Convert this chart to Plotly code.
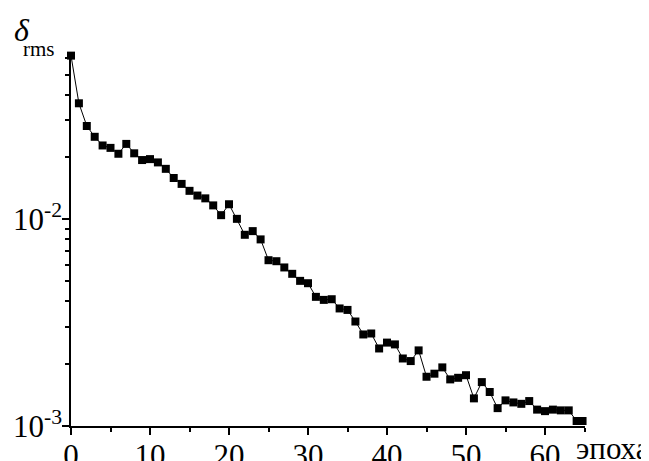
import plotly.graph_objects as go

epochs = list(range(0, 65)) + [64.75]
rms = [0.0617, 0.0363, 0.0282, 0.0250, 0.0227, 0.0221, 0.0207, 0.0231, 0.0208, 0.0193,
       0.0195, 0.0188, 0.0175, 0.0158, 0.0148, 0.0137, 0.0130, 0.0126, 0.01165, 0.01045,
       0.0118, 0.01003, 0.00840, 0.00875, 0.00798, 0.00633, 0.00626, 0.00584, 0.00544, 0.00503,
       0.00490, 0.00421, 0.00407, 0.00410, 0.00370, 0.00364, 0.00320, 0.00277, 0.00280, 0.00237,
       0.00253, 0.00248, 0.00212, 0.00206, 0.00232, 0.00173, 0.00179, 0.00192, 0.00168, 0.00171,
       0.00176, 0.00136, 0.00163, 0.00146, 0.00122, 0.00133, 0.00130, 0.00128, 0.00132, 0.00120,
       0.00118, 0.00120, 0.00119, 0.00119, 0.001057, 0.001057]

y_major = [0.001, 0.01]
y_major_text = ["10<sup>-3</sup>", "10<sup>-2</sup>"]
y_minor = [k * 0.001 for k in range(2, 10)] + [k * 0.01 for k in range(2, 7)]

font = "Liberation Serif, Times New Roman, serif"

fig = go.Figure()
fig.add_trace(go.Scatter(
    x=epochs, y=rms, mode="lines+markers",
    line=dict(color="black", width=1),
    marker=dict(symbol="square", size=8, color="black"),
    cliponaxis=False, showlegend=False,
))

# page body has an 8px margin, so the figure is sized to fit the 649x461 window
fig.update_layout(
    width=641, height=453,
    margin=dict(l=63, r=64, t=45, b=35),
    plot_bgcolor="white", paper_bgcolor="white",
    font=dict(family=font, color="black", size=31),
    xaxis=dict(
        range=[0, 65.06], showgrid=False, zeroline=False, automargin=False,
        showline=True, linecolor="black", linewidth=1.5,
        tickmode="linear", tick0=0, dtick=10,
        ticks="outside", ticklen=7, tickwidth=1.5, tickcolor="black",
        ticklabelstandoff=-6,
        tickfont=dict(family=font, size=31),
        minor=dict(dtick=5, tick0=0, ticks="outside", ticklen=4, tickwidth=1.5, tickcolor="black"),
    ),
    yaxis=dict(
        type="log", range=[-3, -1.197], showgrid=False, zeroline=False, automargin=False,
        showline=True, linecolor="black", linewidth=1.5,
        tickmode="array", tickvals=y_major, ticktext=y_major_text,
        ticks="outside", ticklen=7, tickwidth=1.5, tickcolor="black",
        ticklabelstandoff=-6,
        tickfont=dict(family=font, size=31),
        minor=dict(tickvals=y_minor, ticks="outside", ticklen=4, tickwidth=1.5, tickcolor="black"),
    ),
    annotations=[
        dict(text="<i>δ</i>", xref="paper", yref="paper", x=-0.095, y=1.061,
             xanchor="center", yanchor="middle", showarrow=False,
             font=dict(family=font, size=32)),
        dict(text="rms", xref="paper", yref="paper", x=-0.062, y=1.012,
             xanchor="center", yanchor="middle", showarrow=False,
             font=dict(family=font, size=21)),
        dict(text="эпоха", xref="paper", yref="paper", x=0.978, y=-0.060,
             xanchor="left", yanchor="middle", showarrow=False,
             font=dict(family=font, size=31)),
    ],
)

fig.write_html("out.html")
